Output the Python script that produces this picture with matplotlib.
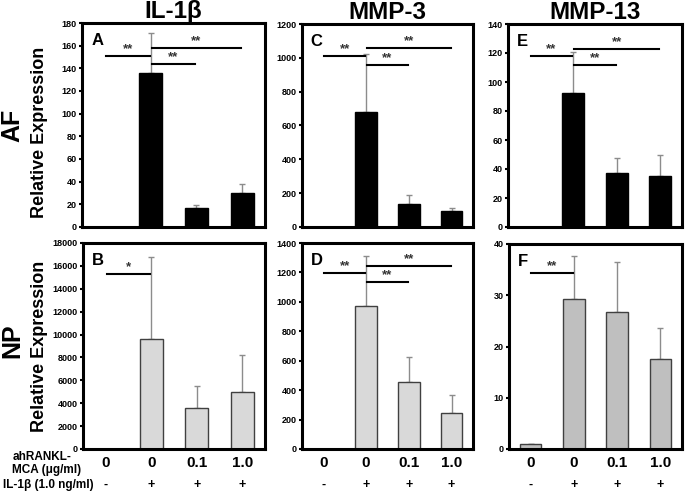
import matplotlib
matplotlib.use('Agg')
import matplotlib.pyplot as plt

plt.rcParams['font.family'] = ['Liberation Sans', 'DejaVu Sans']
plt.rcParams['font.weight'] = 'bold'

W, H = 685, 492
BLACK = '#000000'; LIGHT = '#d9d9d9'; MID = '#bfbfbf'; ERR = '#8c8c8c'

# data
dose_labels = ['0', '0', '0.1', '1.0']
il1_labels = ['-', '+', '+', '+']

af_il1 = [0, 136, 17, 30];        af_il1_err = [0, 35, 2.5, 8]
af_mmp3 = [2, 680, 135, 95];      af_mmp3_err = [0, 340, 55, 20]
af_mmp13 = [0.3, 92.5, 37.5, 35.5]; af_mmp13_err = [0, 28, 10, 14.5]
np_il1 = [30, 9600, 3550, 4950];  np_il1_err = [0, 7200, 1950, 3300]
np_mmp3 = [3, 970, 455, 245];     np_mmp3_err = [0, 340, 170, 120]
np_mmp13 = [1.0, 29.2, 26.8, 17.6]; np_mmp13_err = [0, 8.4, 9.6, 6.1]

# significance bars: (x0, x1, y, label)
sig_A = [(0, 1, 151, '**'), (1, 2, 143.5, '**'), (1, 3, 158, '**')]
sig_C = [(0, 1, 1010, '**'), (1, 2, 960, '**'), (1, 3, 1060, '**')]
sig_E = [(0, 1, 118, '**'), (1, 2, 112, '**'), (1, 3, 123, '**')]
sig_B = [(0, 1, 15300, '*')]
sig_D = [(0, 1, 1195, '**'), (1, 2, 1135, '**'), (1, 3, 1245, '**')]
sig_F = [(0, 1, 34.3, '**')]

fig = plt.figure(figsize=(W/100, H/100), dpi=100, facecolor='white')

def rect(x0, y0, x1, y1):
    return [x0/W, 1 - y1/H, (x1-x0)/W, (y1-y0)/H]

panels = [
    (rect(82, 23, 265, 227), af_il1, af_il1_err, BLACK, 180, 20, 'A', sig_A),
    (rect(302, 24, 473, 227), af_mmp3, af_mmp3_err, BLACK, 1200, 200, 'C', sig_C),
    (rect(508, 24, 682, 227), af_mmp13, af_mmp13_err, BLACK, 140, 20, 'E', sig_E),
    (rect(83, 243, 265, 449), np_il1, np_il1_err, LIGHT, 18000, 2000, 'B', sig_B),
    (rect(302, 243, 473, 449), np_mmp3, np_mmp3_err, LIGHT, 1400, 200, 'D', sig_D),
    (rect(509, 244, 682, 449), np_mmp13, np_mmp13_err, MID, 40, 10, 'F', sig_F),
]

axes = []
for r, vals, errs, col, ymax, step, letter, sigs in panels:
    ax = fig.add_axes(r)
    x = range(len(vals))
    edge = 'black' if col == BLACK else '#404040'
    ax.bar(x, vals, width=0.5, color=col, edgecolor=edge, linewidth=1.0, zorder=2)
    ax.errorbar(x, vals, yerr=[[0]*len(errs), errs], fmt='none', ecolor=ERR,
                elinewidth=1.0, capsize=2.5, capthick=1.0, zorder=1)
    ax.set_xlim(-0.5, 3.5)
    ax.set_ylim(0, ymax)
    ax.set_yticks(range(0, ymax + 1, step))
    ax.tick_params(axis='y', labelsize=6.5, length=2, width=1.5, pad=2)
    ax.set_xticks([])
    for s in ax.spines.values():
        s.set_linewidth(2.2)
    ax.text(0.05, 0.95, letter, transform=ax.transAxes, fontsize=12,
            fontweight='bold', va='top', ha='left')
    for x0, x1, y, lab in sigs:
        ax.plot([x0 + 0.02, x1 - 0.02], [y, y], color='black', lw=1.5, zorder=3)
        ax.text((x0 + x1) / 2, y + ymax * 0.004, lab, ha='center', va='bottom',
                fontsize=9.5, color='#333333')
    axes.append(ax)

titles = ['IL-1β', 'MMP-3', 'MMP-13']
for ax, t in zip(axes[:3], titles):
    ax.set_title(t, fontsize=17.5, fontweight='bold', pad=1)

# row labels
fig.text(12/W, 1 - 125/H, 'AF', rotation=90, fontsize=18, fontweight='bold',
         ha='center', va='center')
fig.text(40/W, 1 - 132/H, 'Relative Expression', rotation=90, fontsize=13,
         fontweight='bold', ha='center', va='center')
fig.text(12/W, 1 - 341/H, 'NP', rotation=90, fontsize=18, fontweight='bold',
         ha='center', va='center')
fig.text(40/W, 1 - 346/H, 'Relative Expression', rotation=90, fontsize=13,
         fontweight='bold', ha='center', va='center')

# bottom condition labels
for ax in axes[3:]:
    for i, (d, s) in enumerate(zip(dose_labels, il1_labels)):
        ax.text(i, -0.07, d, transform=ax.get_xaxis_transform(), ha='center',
                va='center', fontsize=11, fontweight='bold')
        ax.text(i, -0.175, s, transform=ax.get_xaxis_transform(), ha='center',
                va='center', fontsize=9, fontweight='bold')

fig.text(42/W, 1 - 457/H, 'ahRANKL-', ha='center', va='center',
         fontsize=8.5, fontweight='bold')
fig.text(47/W, 1 - 470/H, 'MCA (μg/ml)', ha='center', va='center',
         fontsize=8.5, fontweight='bold')
fig.text(48/W, 1 - 485/H, 'IL-1β (1.0 ng/ml)', ha='center', va='center',
         fontsize=8.5, fontweight='bold')

fig.savefig('out.png', dpi=100, facecolor='white')
